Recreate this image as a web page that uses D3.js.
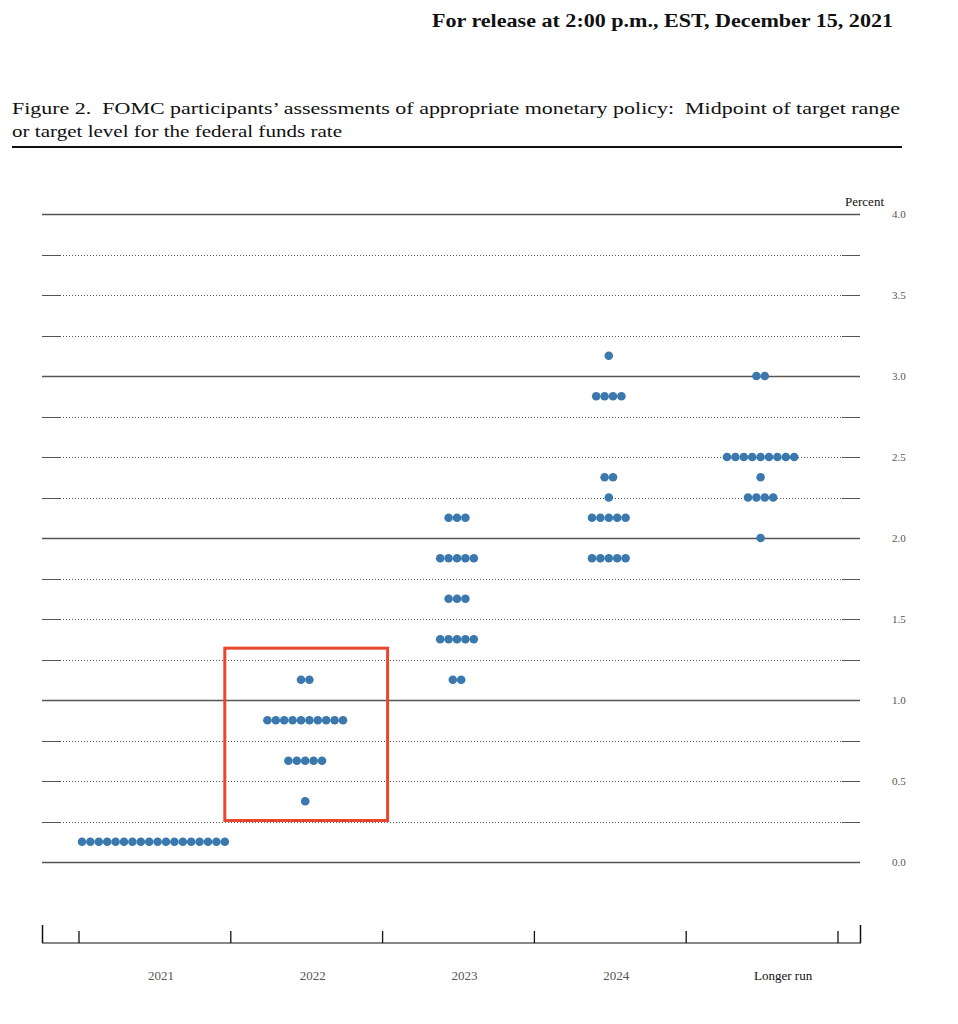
<!DOCTYPE html>
<html><head><meta charset="utf-8">
<script src="https://cdn.jsdelivr.net/npm/d3@7"></script>
<style>body{margin:0;background:#fff}svg{display:block}text{white-space:pre}</style>
</head><body>
<svg id="c" width="958" height="1024"></svg>
<script>
const categories = ["2021","2022","2023","2024","Longer run"];
// each row: [midpoint of target range, number of participants]
const r2021 = [[0.125,18]];
const r2022 = [[1.125,2],[0.875,10],[0.625,5],[0.375,1]];
const r2023 = [[2.125,3],[1.875,5],[1.625,3],[1.375,5],[1.125,2]];
const r2024 = [[3.125,1],[2.875,4],[2.375,2],[2.25,1],[2.125,5],[1.875,5]];
const rLong = [[3.0,2],[2.5,9],[2.375,1],[2.25,4],[2.0,1]];
const yTicks = [0,0.25,0.5,0.75,1,1.25,1.5,1.75,2,2.25,2.5,2.75,3,3.25,3.5,3.75,4];
const yLabels = ["0.0","0.5","1.0","1.5","2.0","2.5","3.0","3.5","4.0"];
const highlight = "2022";

const series = [r2021,r2022,r2023,r2024,rLong];
const svg = d3.select("#c");
const serif = "'Liberation Serif','Times New Roman',serif";

const y = d3.scaleLinear().domain([0,4]).range([862,214]);
const x = d3.scaleBand().domain(categories).range([79,838]).padding(0);
const xLeft = 42, xRight = 860;

// header
svg.append("text").attr("x",893).attr("y",27).attr("text-anchor","end")
  .attr("font-family",serif).attr("font-weight","bold").attr("font-size",18)
  .attr("textLength",461).attr("lengthAdjust","spacingAndGlyphs")
  .attr("fill","#111").text("For release at 2:00 p.m., EST, December 15, 2021");

// title
svg.append("text").attr("x",12).attr("y",114).attr("font-family",serif)
  .attr("font-size",17.5).attr("fill","#111").attr("textLength",888).attr("lengthAdjust","spacingAndGlyphs")
  .text("Figure 2.  FOMC participants’ assessments of appropriate monetary policy:  Midpoint of target range");
svg.append("text").attr("x",12).attr("y",137).attr("font-family",serif)
  .attr("font-size",17.5).attr("fill","#111").attr("textLength",330).attr("lengthAdjust","spacingAndGlyphs")
  .text("or target level for the federal funds rate");
svg.append("line").attr("x1",12).attr("x2",902).attr("y1",147).attr("y2",147)
  .attr("stroke","#111").attr("stroke-width",2);

// gridlines
const g = svg.append("g");
yTicks.forEach(t => {
  const yy = Math.round(y(t))+0.5;
  const isInt = Number.isInteger(t);
  if (isInt) {
    g.append("line").attr("x1",xLeft).attr("x2",xRight).attr("y1",yy).attr("y2",yy)
      .attr("stroke","#555").attr("stroke-width",1.3);
  } else {
    g.append("line").attr("x1",xLeft+18).attr("x2",xRight-18).attr("y1",yy).attr("y2",yy)
      .attr("stroke","#555").attr("stroke-width",1).attr("stroke-dasharray","1,2");
    g.append("line").attr("x1",xLeft).attr("x2",xLeft+18).attr("y1",yy).attr("y2",yy)
      .attr("stroke","#555").attr("stroke-width",1);
    g.append("line").attr("x1",xRight-18).attr("x2",xRight).attr("y1",yy).attr("y2",yy)
      .attr("stroke","#555").attr("stroke-width",1);
  }
});

// right axis labels
const yl = svg.append("g").attr("transform","translate(892,0)");
yLabels.forEach(l => {
  yl.append("text").attr("x",0).attr("y",y(+l)+4).attr("font-family",serif)
    .attr("font-size",11).attr("fill","#555").text(l);
});
svg.append("text").attr("x",884).attr("y",206).attr("text-anchor","end").attr("font-family",serif)
  .attr("font-size",13).attr("fill","#111").text("Percent");

// dots
const step = 8.4, rad = 4.3;
const dots = svg.append("g");
categories.forEach((c,i) => {
  const cx = x(c) + x.bandwidth()/2 - 1.5;
  series[i].forEach(([v,n]) => {
    for (let k=0;k<n;k++){
      dots.append("circle").attr("cx",cx+(k-(n-1)/2)*step).attr("cy",y(v)).attr("r",rad)
        .attr("fill","#3a78ae");
    }
  });
});

// highlight box
const hb = x(highlight);
svg.append("rect").attr("x",hb-6).attr("y",y(1.32)).attr("width",x.bandwidth()+11)
  .attr("height",y(0.25)-y(1.32)-1).attr("fill","none").attr("stroke","#e8472e").attr("stroke-width",3);

// bottom axis
const ax = svg.append("g");
const by = 943;
ax.append("line").attr("x1",xLeft).attr("x2",xRight+1).attr("y1",by).attr("y2",by)
  .attr("stroke","#888").attr("stroke-width",2);
[xLeft+0.5, xRight+0.5].forEach(xx => ax.append("line").attr("x1",xx).attr("x2",xx)
  .attr("y1",by-18).attr("y2",by).attr("stroke","#111").attr("stroke-width",1.5));
const bounds = categories.map(c=>x(c)).concat([x.range()[1]]);
bounds.forEach(b => ax.append("line").attr("x1",b).attr("x2",b).attr("y1",by-12).attr("y2",by)
  .attr("stroke","#111").attr("stroke-width",1.3));
categories.forEach((c,i) => {
  const isLast = i===categories.length-1;
  ax.append("text").attr("x",x(c)+x.bandwidth()/2+(isLast?21:6)).attr("y",980)
    .attr("text-anchor","middle").attr("font-family",serif).attr("font-size",13)
    .attr("fill",isLast?"#111":"#555").text(c);
});
</script>
</body></html>
